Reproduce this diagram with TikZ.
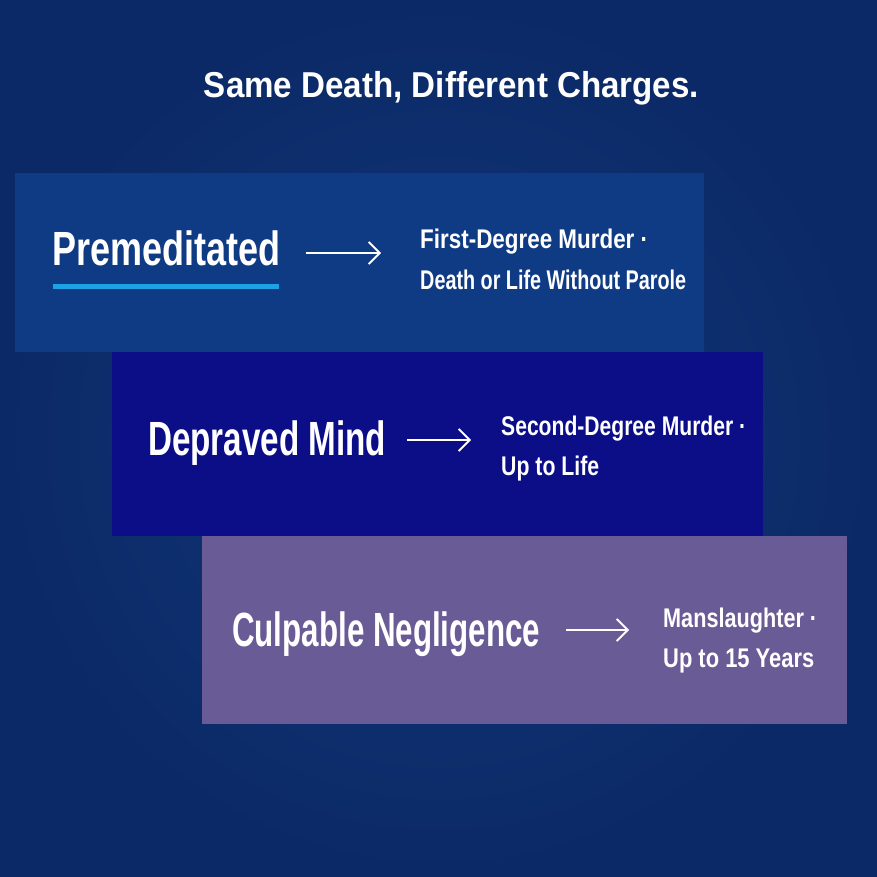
\documentclass[tikz,border=0pt]{standalone}
\usepackage{fontspec}
\setmainfont{Liberation Sans}
\usetikzlibrary{arrows.meta}
\definecolor{bgin}{HTML}{12377A}
\definecolor{bgout}{HTML}{0B2966}
\definecolor{boxA}{HTML}{0F3A84}
\definecolor{boxB}{HTML}{0B0E86}
\definecolor{boxC}{HTML}{695B95}
\definecolor{cyanbar}{HTML}{1EA2E6}
\newcommand\fitw[2]{\resizebox{#1pt}{\height}{#2}}
\tikzset{
  panel/.style={draw=none, inner sep=0pt, anchor=north west},
  titletext/.style={text=white, inner sep=0pt, anchor=base, font=\bfseries\fontsize{36}{40}\selectfont},
  mainlabel/.style={text=white, inner sep=0pt, anchor=base west, font=\bfseries\fontsize{48}{54}\selectfont},
  sidelabel/.style={text=white, inner sep=0pt, anchor=base west, font=\bfseries\fontsize{27}{32}\selectfont},
  linkarrow/.style={draw=white, line width=1.8pt, -{Straight Barb[length=11pt,width=22pt,line width=1.8pt]}},
}
\begin{document}
\begin{tikzpicture}[x=1pt,y=-1pt]
\useasboundingbox (0,0) rectangle (877,877);
\shade[inner color=bgin, outer color=bgout] (0,0) rectangle (877,877);
% title
\node[titletext] (title) at (451.5,98) {\fitw{495}{Same Death, Different Charges.}};
% panels
\node[panel, fill=boxA, minimum width=689pt, minimum height=179pt] (p1) at (15,173) {};
\node[panel, fill=boxB, minimum width=651pt, minimum height=184pt] (p2) at (112,352) {};
\node[panel, fill=boxC, minimum width=645pt, minimum height=188pt] (p3) at (202,536) {};
% panel 1
\node[mainlabel] (l1) at (52,265) {\fitw{228}{Premeditated}};
\fill[cyanbar] (53,284) rectangle (279,289);
\coordinate (a1s) at (306,253);
\coordinate (a1e) at (381,253);
\draw[linkarrow] (a1s) -- (a1e);
\node[sidelabel] (r1a) at (420,248) {\fitw{228}{First-Degree Murder ·}};
\node[sidelabel] (r1b) at (420,289) {\fitw{266}{Death or Life Without Parole}};
% panel 2
\node[mainlabel] (l2) at (148,455) {\fitw{238}{Depraved Mind}};
\coordinate (a2s) at (407,440);
\coordinate (a2e) at (471,440);
\draw[linkarrow] (a2s) -- (a2e);
\node[sidelabel] (r2a) at (501,435) {\fitw{245}{Second-Degree Murder ·}};
\node[sidelabel] (r2b) at (501,475) {\fitw{98}{Up to Life}};
% panel 3
\node[mainlabel] (l3) at (232,646) {\fitw{308}{Culpable Negligence}};
\coordinate (a3s) at (566,630);
\coordinate (a3e) at (629,630);
\draw[linkarrow] (a3s) -- (a3e);
\node[sidelabel] (r3a) at (663,627) {\fitw{154}{Manslaughter ·}};
\node[sidelabel] (r3b) at (663,667) {\fitw{151}{Up to 15 Years}};
\end{tikzpicture}
\end{document}
